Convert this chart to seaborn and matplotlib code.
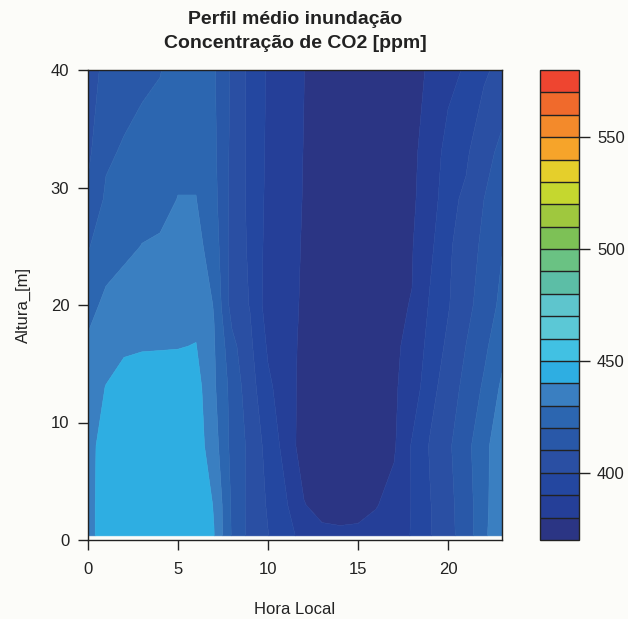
import numpy as np
import matplotlib
matplotlib.use("Agg")
import matplotlib.pyplot as plt
import seaborn as sns

# Mean CO2 concentration profile (ppm) by local hour and height
hours = np.arange(24)
heights = [0.35, 3, 8, 13, 16.5, 20, 25, 29, 33, 40]

co2_h00 = [436, 446, 447, 447, 447, 447, 446, 440.2, 419, 407, 400.3, 394.3, 386, 383, 382.5, 383, 383, 384, 390.8, 399.2, 407.2, 414.2, 428.7, 435.2]
co2_h03 = [436, 446, 447, 447, 447, 447, 446, 439.5, 418.5, 407, 399, 391, 380.5, 376, 375, 375.5, 379.5, 383, 390.5, 399.5, 407.5, 414.5, 428, 435.5]
co2_h08 = [436, 445, 446, 446, 446, 446, 445, 434.4, 416.9, 407.7, 396.4, 386.5, 374.7, 372, 371, 371, 373, 378.8, 391, 400.8, 408.2, 417.2, 426.5, 438.2]
co2_h13 = [435, 440.3, 444.5, 445, 445, 445, 444, 431.5, 416.5, 404.3, 391.9, 384.8, 376.5, 372.4, 371.2, 371.2, 373, 378.9, 384, 396.7, 404.6, 413, 421.4, 431.7]
co2_h16 = [431.5, 436, 438.3, 439.2, 439.4, 439.6, 440.3, 430.8, 413, 402, 388.7, 383.7, 377.7, 372.7, 371.4, 371.4, 373, 379.1, 381.5, 394, 401.8, 410.1, 417.8, 426.9]
co2_h20 = [427, 432, 434, 436, 437, 437.5, 437, 429.5, 405.8, 399.6, 385.5, 382.5, 379, 373, 371.5, 371.5, 373, 379.2, 380.2, 391.1, 399.2, 407.2, 414.2, 422.5]
co2_h25 = [419.2, 425.8, 428.1, 430.2, 431, 433, 433, 425.5, 406, 398.5, 386.7, 382.5, 379.4, 373.5, 371.8, 371.8, 373, 377.5, 379.5, 387.8, 398.5, 404.7, 412.3, 419.5]
co2_h29 = [412, 421.5, 424, 427, 427.5, 430.2, 430.2, 423, 407, 397.7, 387.7, 382.5, 379.7, 374, 372, 372, 373, 375.5, 379, 383.5, 397.9, 401.4, 410, 417]
co2_h33 = [408, 418.5, 421, 423, 425, 428, 428, 422, 407.5, 397.5, 388.3, 383.3, 379.8, 374.4, 372, 372, 373, 375.3, 378.8, 382.6, 394.4, 398.6, 406.2, 412.7]
co2_h40 = [405, 413, 416, 418, 419.5, 425, 425, 421, 408.5, 397.2, 388.9, 384, 380.1, 375, 372, 372, 373, 375, 378.5, 380.6, 386, 391.5, 398.5, 403]

levels = np.arange(370, 581, 10)
band_colors = [
    "#2b3584", "#253f98", "#2447a0", "#2a4fa3", "#2958a8", "#2c66b0",
    "#3a7fc1", "#2eaee2", "#41c1e3", "#5bc8d6", "#5ec5cd", "#5cbea6",
    "#6ac283", "#7dc156", "#9fc83e", "#c5d72f", "#e5cf2b", "#f6a42a",
    "#f38a2b", "#f06a2c", "#ee4530",
]
cbar_ticks = [400, 450, 500, 550]

sns.set_style("ticks")
plt.rcParams["font.family"] = ["Liberation Sans", "DejaVu Sans"]

bg = "#fcfcf9"
ink = "#222222"
fs = 12
Z = np.array([co2_h00, co2_h03, co2_h08, co2_h13, co2_h16,
              co2_h20, co2_h25, co2_h29, co2_h33, co2_h40])
palette = sns.color_palette(band_colors)

fig = plt.figure(figsize=(6.28, 6.19), dpi=100, facecolor=bg)
ax = fig.add_axes([88 / 628, 79 / 619, 414 / 628, 470 / 619])
ax.set_facecolor(bg)
cf = ax.contourf(hours, heights, Z, levels=levels, colors=palette, antialiased=True)
cf.set_edgecolor("face")
cf.set_linewidth(0.4)
ax.set_xlim(0, 23)
ax.set_ylim(0, 40)
ax.set_xticks([0, 5, 10, 15, 20])
ax.set_yticks([0, 10, 20, 30, 40])
ax.tick_params(axis="both", direction="out", length=7.5, width=1.0,
               color=ink, labelcolor=ink, labelsize=fs)
ax.tick_params(axis="x", pad=8)
ax.tick_params(axis="y", pad=6)
for sp in ax.spines.values():
    sp.set_color(ink)
    sp.set_linewidth(1.0)

ax.set_xlabel("Hora Local", fontsize=fs, color=ink)
ax.xaxis.set_label_coords(0.5, -0.148)
ax.xaxis.label.set_va("center")
ax.set_ylabel("Altura_[m]", fontsize=fs, color=ink)
ax.yaxis.set_label_coords(-0.157, 0.5)
ax.yaxis.label.set_va("center")

fig.text(295 / 628, 1 - 19 / 619, "Perfil médio inundação", ha="center", va="center",
         fontsize=14, fontweight="bold", color=ink)
fig.text(295 / 628, 1 - 43 / 619, "Concentração de CO2 [ppm]", ha="center", va="center",
         fontsize=14, fontweight="bold", color=ink)

cax = fig.add_axes([540 / 628, 79 / 619, 39 / 628, 470 / 619])
cbar = fig.colorbar(cf, cax=cax, drawedges=True)
cbar.set_ticks(cbar_ticks)
cbar.dividers.set_color(ink)
cbar.dividers.set_linewidth(1.0)
cbar.outline.set_edgecolor(ink)
cbar.outline.set_linewidth(1.0)
cax.tick_params(direction="out", length=8, width=1.0, color=ink,
                labelcolor=ink, labelsize=fs, pad=5)

fig.savefig("out.png", dpi=100, facecolor=bg)
